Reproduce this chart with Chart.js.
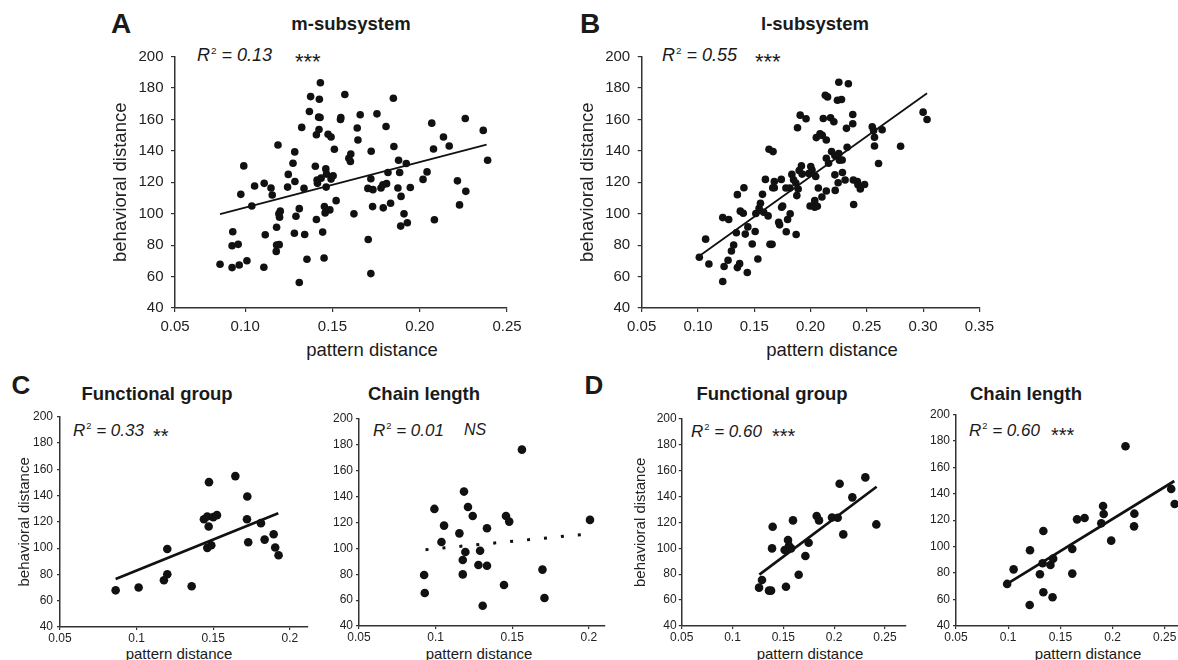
<!DOCTYPE html>
<html>
<head>
<meta charset="utf-8">
<script src="https://cdn.jsdelivr.net/npm/chart.js@4.4.0/dist/chart.umd.min.js"></script>
<style>
  body { margin: 0; width: 1178px; height: 660px; overflow: hidden; background: #fff; position: relative;
         font-family: Arial, "Liberation Sans", Helvetica, sans-serif; color: #1a1a1a; }
  canvas { position: absolute; }
  .c { position: absolute; transform: translate(-50%, -50%); white-space: nowrap; line-height: 1; }
  .l { position: absolute; transform: translateY(-50%); white-space: nowrap; line-height: 1; }
  .letter { font-weight: bold; font-size: 28px; }
  .ttl { font-weight: bold; font-size: 18.5px; }
  .note { font-style: italic; }
  .note sup { font-size: 55%; font-style: normal; vertical-align: 0.75em; margin-left: 1px; }
</style>
</head>
<body>

<div class="c letter" style="left:121px;top:24px">A</div>
<div class="c ttl" style="left:351px;top:24px">m-subsystem</div>
<div class="l note" style="left:197px;top:55px;font-size:18px"><i>R</i><sup>2</sup> = 0.13</div>
<div class="l" style="left:295px;top:62px;font-size:22px">***</div>
<div class="c" style="left:372px;top:350px;font-size:18.5px">pattern distance</div>

<div class="c letter" style="left:590px;top:24px">B</div>
<div class="c ttl" style="left:815px;top:24px">l-subsystem</div>
<div class="l note" style="left:662px;top:55px;font-size:18px"><i>R</i><sup>2</sup> = 0.55</div>
<div class="l" style="left:755px;top:62px;font-size:22px">***</div>
<div class="c" style="left:832px;top:350px;font-size:18.5px">pattern distance</div>

<div class="c letter" style="left:21px;top:385px;font-size:26px">C</div>
<div class="c ttl" style="left:157px;top:394px">Functional group</div>
<div class="l note" style="left:73px;top:430px;font-size:17px"><i>R</i><sup>2</sup> = 0.33</div>
<div class="l" style="left:153px;top:436px;font-size:20px">**</div>
<div class="c" style="left:179px;top:653px;font-size:15px">pattern distance</div>

<div class="c ttl" style="left:424px;top:394px">Chain length</div>
<div class="l note" style="left:373px;top:430px;font-size:17px"><i>R</i><sup>2</sup> = 0.01</div>
<div class="l note" style="left:464px;top:430px;font-size:16px">NS</div>
<div class="c" style="left:479px;top:653px;font-size:15px">pattern distance</div>

<div class="c letter" style="left:594px;top:385px;font-size:26px">D</div>
<div class="c ttl" style="left:772px;top:394px">Functional group</div>
<div class="l note" style="left:691px;top:431px;font-size:17px"><i>R</i><sup>2</sup> = 0.60</div>
<div class="l" style="left:772px;top:436px;font-size:20px">***</div>
<div class="c" style="left:810px;top:653px;font-size:15px">pattern distance</div>

<div class="c ttl" style="left:1026px;top:394px">Chain length</div>
<div class="l note" style="left:969px;top:430px;font-size:17px"><i>R</i><sup>2</sup> = 0.60</div>
<div class="l" style="left:1051px;top:435px;font-size:20px">***</div>
<div class="c" style="left:1088px;top:653px;font-size:15px">pattern distance</div>

<canvas id="chartA"></canvas>
<canvas id="chartB"></canvas>
<canvas id="chartC1"></canvas>
<canvas id="chartC2"></canvas>
<canvas id="chartD1"></canvas>
<canvas id="chartD2"></canvas>

<script>
// values (x = pattern distance, y = behavioral distance)
const A_X = [0.0856,0.0925,0.0966,0.1010,0.0925,0.0960,0.0929,0.0975,0.0992,0.1038,
             0.1054,0.1109,0.1115,0.1107,0.1148,0.1155,0.1178,0.1180,0.1195,0.1180,
             0.1197,0.1201,0.1193,0.1188,0.1243,0.1247,0.1274,0.1284,0.1285,0.1291,
             0.1282,0.1310,0.1310,0.1324,0.1337,0.1341,0.1354,0.1368,0.1375,0.1402,
             0.1408,0.1408,0.1412,0.1414,0.1421,0.1423,0.1425,0.1429,0.1431,0.1435,
             0.1444,0.1452,0.1454,0.1458,0.1462,0.1464,0.1466,0.1475,0.1485,0.1492,
             0.1492,0.1504,0.1511,0.1521,0.1546,0.1548,0.1571,0.1594,0.1605,0.1603,
             0.1623,0.1642,0.1646,0.1659,0.1705,0.1703,0.1720,0.1720,0.1722,0.1732,
             0.1730,0.1755,0.1778,0.1789,0.1791,0.1807,0.1810,0.1818,0.1833,0.1849,
             0.1852,0.1875,0.1879,0.1885,0.1893,0.1891,0.1910,0.1923,0.1929,0.1946,
             0.2019,0.2042,0.2069,0.2079,0.2084,0.2136,0.2169,0.2216,0.2228,0.2264,
             0.2261,0.2364,0.2389];
const A_Y = [67.8,65.7,67.4,70.1,79.6,80.5,88.5,112.3,130.4,104.9,
             117.6,119.3,86.6,65.9,116.3,111.9,76.0,80.1,80.3,91.4,
             97.8,101.6,99.9,143.7,116.9,125.0,132.1,139.3,120.5,98.4,
             87.6,103.2,56.2,154.9,116.1,86.8,71.0,165.0,174.5,130.2,
             150.2,96.3,121.4,119.3,161.4,153.6,172.8,161.2,183.3,122.6,
             88.3,71.8,104.5,100.5,128.5,116.9,125.2,150.5,102.4,148.8,
             122.0,124.1,141.0,108.3,159.9,161.2,175.8,135.3,138.0,133.2,
             99.9,154.5,146.9,162.9,83.6,116.1,61.9,122.2,139.7,115.3,
             104.5,163.5,116.3,118.4,103.7,155.5,119.1,126.2,106.6,173.4,
             142.7,116.3,134.0,126.2,111.0,92.1,99.9,131.9,94.2,116.7,
             121.8,126.6,157.6,141.2,96.1,148.8,143.1,120.9,105.6,114.2,
             160.6,153.0,134.0];
const A_FIT_X = [0.0856, 0.2383];
const A_FIT_Y = [99.7, 143.9];

const B_X = [0.1012,0.1068,0.1097,0.1220,0.1232,0.1267,0.1220,0.1273,0.1297,0.1317,
             0.1341,0.1350,0.1350,0.1370,0.1376,0.1402,0.1408,0.1420,0.1438,0.1443,
             0.1482,0.1508,0.1514,0.1532,0.1543,0.1555,0.1573,0.1584,0.1599,0.1623,
             0.1631,0.1640,0.1658,0.1667,0.1664,0.1678,0.1678,0.1717,0.1725,0.1740,
             0.1743,0.1752,0.1781,0.1784,0.1796,0.1816,0.1819,0.1834,0.1849,0.1869,
             0.1872,0.1878,0.1884,0.1890,0.1899,0.1908,0.1919,0.1925,0.1960,0.1984,
             0.1996,0.2002,0.2013,0.2037,0.2046,0.2037,0.2060,0.2051,0.2069,0.2084,
             0.2101,0.2104,0.2113,0.2131,0.2140,0.2140,0.2151,0.2140,0.2160,0.2178,
             0.2187,0.2207,0.2216,0.2219,0.2216,0.2239,0.2245,0.2251,0.2257,0.2251,
             0.2275,0.2281,0.2283,0.2307,0.2319,0.2325,0.2336,0.2375,0.2375,0.2380,
             0.2383,0.2416,0.2442,0.2480,0.2548,0.2560,0.2568,0.2568,0.2604,0.2636,
             0.2800,0.3000,0.3035,0.2421];
const B_Y = [72.3,83.8,68.0,56.9,66.4,70.4,97.5,96.3,76.3,80.1,
             87.9,112.1,65.7,68.2,101.6,100.3,116.5,87.0,62.6,91.6,
             80.7,88.7,100.1,71.2,103.5,106.6,112.3,100.9,121.8,98.6,
             141.0,80.5,80.5,139.5,116.5,120.5,116.5,94.6,92.9,121.8,
             104.1,104.9,116.3,88.5,96.3,116.3,99.9,125.0,121.6,119.5,
             86.8,111.5,154.7,115.7,127.5,162.7,130.4,125.2,160.4,125.6,
             104.9,130.0,127.7,104.1,123.7,108.3,104.7,148.4,116.3,150.9,
             110.6,149.8,160.6,175.3,146.9,114.4,174.3,135.3,132.1,161.0,
             139.5,158.5,124.7,114.8,137.0,172.2,119.7,138.2,134.0,183.6,
             172.6,134.2,126.2,121.4,154.3,142.2,182.7,163.1,157.2,121.4,
             105.8,120.5,115.7,118.6,155.3,153.0,148.6,143.1,131.9,153.4,
             142.9,164.6,159.9,118.4];
const B_FIT_X = [0.1012, 0.3035];
const B_FIT_Y = [73.1, 176.6];

const C1_X = [0.0863,0.1013,0.1178,0.1200,0.1200,0.1359,0.1439,0.1461,0.1472,0.1470,0.1461,0.1487,
              0.1500,0.1524,0.1644,0.1722,0.1720,0.1728,0.1811,0.1835,0.1894,0.1904,0.1926];
const C1_Y = [67.9,70.0,75.6,80.1,99.4,71.0,122.0,124.1,150.2,116.5,100.2,102.2,
              123.6,125.1,154.8,139.3,122.0,104.5,119.0,106.5,110.6,100.5,94.6];
const C1_FIT_X = [0.0863, 0.1924];
const C1_FIT_Y = [76.6, 126.6];

const C2_X = [0.0925,0.0929,0.0992,0.1038,0.1055,0.1155,0.1185,0.1177,0.1177,0.1194,0.1211,0.1242,
              0.1290,0.1279,0.1307,0.1335,0.1335,0.1446,0.1459,0.1480,0.1563,0.1697,0.1710,0.2007];
const C2_Y = [79.4,65.5,130.5,104.9,117.6,111.6,143.9,91.0,79.9,97.2,132.0,125.0,
              98.2,87.2,55.7,115.5,86.6,71.7,125.0,120.7,176.3,83.6,61.6,122.0];
const C2_FIT_X = [0.0934, 0.1949];
const C2_FIT_Y = [99.0, 110.6];

const D1_X = [0.1261,0.1290,0.1359,0.1379,0.1395,0.1389,0.1513,0.1526,0.1546,0.1556,0.1576,0.1595,
              0.1651,0.1717,0.1749,0.1828,0.1851,0.1979,0.2035,0.2054,0.2090,0.2179,0.2307,0.2415];
const D1_Y = [69.6,75.5,67.3,67.3,116.6,99.9,98.6,70.3,106.4,102.0,99.9,121.5,
              79.6,94.0,104.3,124.9,121.5,123.8,123.6,149.8,110.7,139.3,154.7,118.4];
const D1_FIT_X = [0.1264, 0.2418];
const D1_FIT_Y = [79.6, 147.5];

const D2_X = [0.0990,0.1052,0.1206,0.1209,0.1304,0.1330,0.1337,0.1337,0.1405,0.1425,0.1431,0.1614,
              0.1614,0.1660,0.1732,0.1892,0.1909,0.1915,0.1987,0.2124,0.2209,0.2206,0.2562,0.2595];
const D2_Y = [71.8,82.8,55.9,97.2,79.1,87.4,111.8,65.5,86.1,61.7,90.9,98.2,
              79.6,120.6,121.6,117.6,130.7,124.7,104.5,175.8,124.9,115.3,143.6,132.2];
const D2_FIT_X = [0.0993, 0.2592];
const D2_FIT_Y = [72.0, 149.6];

// tick values and their printed labels
const Y_TICKS = [40, 60, 80, 100, 120, 140, 160, 180, 200];
const A_TICKS = [0.0598, 0.10, 0.15, 0.20, 0.25];   // axis origin is printed as 0.05 in the figure
const A_LABELS = ['0.05', '0.10', '0.15', '0.20', '0.25'];
const B_TICKS = [0.05, 0.10, 0.15, 0.20, 0.25, 0.30, 0.35];
const B_LABELS = ['0.05', '0.10', '0.15', '0.20', '0.25', '0.30', '0.35'];
const C_TICKS = [0.05, 0.1, 0.15, 0.2];
const C_LABELS = ['0.05', '0.1', '0.15', '0.2'];
const D_TICKS = [0.05, 0.1, 0.15, 0.2, 0.25];
const D_LABELS = ['0.05', '0.1', '0.15', '0.2', '0.25'];

Chart.defaults.font.family = 'Arial, "Liberation Sans", Helvetica, sans-serif';
Chart.defaults.color = '#222';

function toPoints(xs, ys) {
    return xs.map((x, i) => ({ x: x, y: ys[i] }));
}

function makePanel(id, g) {
    const canvas = document.getElementById(id);
    canvas.width = g.w;
    canvas.height = g.h;
    canvas.style.left = g.left + 'px';
    canvas.style.top = g.top + 'px';

    new Chart(canvas, {
        type: 'scatter',
        data: {
            datasets: [{
                data: toPoints(g.xs, g.ys),
                pointRadius: g.r,
                pointBackgroundColor: '#111',
                pointBorderWidth: 0,
                showLine: false,
                clip: false
            }, {
                data: toPoints(g.fitX, g.fitY),
                showLine: true,
                pointRadius: 0,
                borderColor: '#111',
                borderWidth: g.lw,
                borderDash: g.dash || [],
                borderCapStyle: 'butt',
                clip: false
            }]
        },
        options: {
            responsive: false,
            animation: false,
            events: [],
            layout: {
                autoPadding: false,
                padding: { left: 0, top: g.plotT - g.top, right: g.left + g.w - g.plotR, bottom: 0 }
            },
            plugins: { legend: { display: false }, tooltip: { enabled: false } },
            scales: {
                x: {
                    type: 'linear',
                    min: g.xMin,
                    max: g.xMax,
                    afterBuildTicks: s => { s.ticks = g.xTicks.map(v => ({ value: v })); },
                    afterFit: s => { s.height = g.top + g.h - g.plotB; },
                    ticks: {
                        callback: (v, i) => g.xLabels[i],
                        font: { size: g.tf },
                        padding: g.xPad,
                        maxRotation: 0,
                        autoSkip: false
                    },
                    grid: { drawOnChartArea: false, tickLength: g.tl, color: '#333', lineWidth: 1.2 },
                    border: { color: '#333', width: 1.5 }
                },
                y: {
                    type: 'linear',
                    min: 40,
                    max: 200,
                    afterBuildTicks: s => { s.ticks = Y_TICKS.map(v => ({ value: v })); },
                    afterFit: s => { s.width = g.plotL - g.left; },
                    ticks: { font: { size: g.tf }, padding: g.yPad },
                    grid: { drawOnChartArea: false, tickLength: g.tl, color: '#333', lineWidth: 1.2 },
                    border: { color: '#333', width: 1.5 },
                    title: g.yTitleX ? {
                        display: true,
                        text: 'behavioral distance',
                        font: { size: g.yf },
                        padding: { top: g.yTitleX - g.left - g.yf * 0.6, bottom: 0 }
                    } : { display: false }
                }
            }
        }
    });
}

makePanel('chartA', {
    left: 100, top: 40, w: 432, h: 300, plotL: 175, plotR: 507, plotT: 55, plotB: 308,
    xs: A_X, ys: A_Y, fitX: A_FIT_X, fitY: A_FIT_Y, xMin: 0.0598, xMax: 0.25,
    xTicks: A_TICKS, xLabels: A_LABELS, r: 3.8, lw: 1.8, tf: 15, tl: 4, xPad: 6, yPad: 7.5,
    yTitleX: 121, yf: 18.5
});
makePanel('chartB', {
    left: 570, top: 40, w: 430, h: 300, plotL: 641.7, plotR: 983.3, plotT: 55, plotB: 308,
    xs: B_X, ys: B_Y, fitX: B_FIT_X, fitY: B_FIT_Y, xMin: 0.05, xMax: 0.35,
    xTicks: B_TICKS, xLabels: B_LABELS, r: 3.8, lw: 1.8, tf: 15, tl: 4, xPad: 6, yPad: 7.5,
    yTitleX: 588, yf: 18.5
});
makePanel('chartC1', {
    left: 0, top: 400, w: 330, h: 255, plotL: 60, plotR: 308, plotT: 416.7, plotB: 627,
    xs: C1_X, ys: C1_Y, fitX: C1_FIT_X, fitY: C1_FIT_Y, xMin: 0.05, xMax: 0.2118,
    xTicks: C_TICKS, xLabels: C_LABELS, r: 4.3, lw: 2.7, tf: 12, tl: 3, xPad: 1, yPad: 4,
    yTitleX: 25, yf: 15
});
makePanel('chartC2', {
    left: 320, top: 400, w: 300, h: 255, plotL: 359, plotR: 605, plotT: 419, plotB: 626,
    xs: C2_X, ys: C2_Y, fitX: C2_FIT_X, fitY: C2_FIT_Y, xMin: 0.05, xMax: 0.2105,
    xTicks: C_TICKS, xLabels: C_LABELS, r: 4.3, lw: 3, dash: [3, 14], tf: 12, tl: 3, xPad: 1, yPad: 3
});
makePanel('chartD1', {
    left: 615, top: 400, w: 300, h: 255, plotL: 681.7, plotR: 906, plotT: 418.7, plotB: 626,
    xs: D1_X, ys: D1_Y, fitX: D1_FIT_X, fitY: D1_FIT_Y, xMin: 0.05, xMax: 0.2707,
    xTicks: D_TICKS, xLabels: D_LABELS, r: 4.3, lw: 2.7, tf: 12, tl: 3, xPad: 1, yPad: 2,
    yTitleX: 641, yf: 15
});
makePanel('chartD2', {
    left: 915, top: 400, w: 263, h: 255, plotL: 956, plotR: 1178, plotT: 414.3, plotB: 626,
    xs: D2_X, ys: D2_Y, fitX: D2_FIT_X, fitY: D2_FIT_Y, xMin: 0.05, xMax: 0.2627,
    xTicks: D_TICKS, xLabels: D_LABELS, r: 4.3, lw: 2.7, tf: 12, tl: 3, xPad: 1, yPad: 3
});
</script>
</body>
</html>
